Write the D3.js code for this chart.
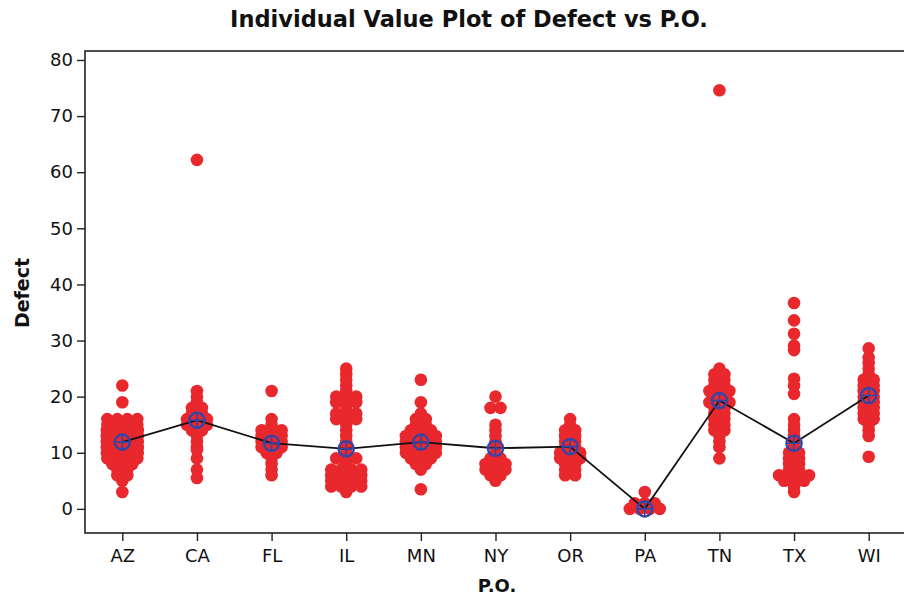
<!DOCTYPE html>
<html>
<head>
<meta charset="utf-8">
<script src="https://cdn.jsdelivr.net/npm/d3@7"></script>
<style>
  body { margin: 0; background: #ffffff; }
  text { font-family: "DejaVu Sans", Verdana, sans-serif; fill: #111; }
</style>
</head>
<body>
<svg id="chart" width="904" height="596"></svg>
<script>
// Purchase orders (P.O.) along the x axis
const categories = ["AZ", "CA", "FL", "IL", "MN", "NY", "OR", "PA", "TN", "TX", "WI"];

// Defect counts recorded for each P.O.
const defectAZ = [22, 19, 16, 16, 16, 16, 15, 15, 15, 15, 14, 14, 14, 14, 14, 13, 13, 13, 13, 13,
  12, 12, 12, 12, 12, 11, 11, 11, 11, 11, 10, 10, 10, 10, 10, 9, 9, 9, 9, 8, 8, 8, 7, 7, 6, 6, 5, 3];
const defectCA = [62.2, 21, 20, 19, 18, 18, 17, 17, 16, 16, 16, 15, 15, 15, 14, 14, 13, 12, 11, 10.5, 9, 7, 5.5];
const defectFL = [21, 16, 15, 14, 14, 14, 13, 13, 13, 12, 12, 12, 11, 11, 11, 10, 10, 9, 8, 7, 6];
const defectIL = [25, 24, 23, 22, 21, 20, 20, 20, 19, 19, 19, 18, 17, 17, 17, 16, 16, 16, 15, 14, 13, 12, 11, 10,
  9, 9, 9, 8, 7, 7, 7, 7, 6, 6, 6, 6, 5, 5, 5, 5, 4, 4, 4, 4, 3];
const defectMN = [23, 19, 17, 16, 16, 15, 15, 14, 14, 14, 13, 13, 13, 13, 12, 12, 12, 12, 11, 11, 11, 11,
  10, 10, 10, 10, 9, 9, 9, 8, 8, 7, 3.5];
const defectNY = [20, 18, 18, 15, 14, 13, 12, 11, 10, 9, 9, 8, 8, 8, 7, 7, 7, 6, 6, 5];
const defectOR = [16, 15, 14, 14, 13, 13, 12, 12, 11, 11, 10, 10, 10, 9, 9, 9, 8, 8, 7, 7, 6, 6];
const defectPA = [3, 1, 1, 1, 0, 0, 0, 0];
const defectTN = [74.6, 25, 24, 24, 23, 23, 22, 22, 21, 21, 21, 20, 20, 19, 19, 19, 18, 18, 17, 17,
  16, 16, 15, 15, 14, 14, 13, 12, 11, 9];
const defectTX = [36.7, 33.6, 31.2, 29.1, 28.3, 23.2, 22, 20.5, 16, 15, 14, 13, 12, 11, 10, 10, 9, 9,
  8, 8, 7, 7, 6, 6, 6, 6, 5, 5, 5, 4, 3];
const defectWI = [28.6, 27, 26, 25, 24, 23, 23, 22, 22, 21, 21, 20, 20, 19, 19, 18, 18, 17, 17, 16, 16,
  15, 14, 13, 9.3];

// Group means, joined by the connect line
const groupMeans = [11.9, 15.8, 11.7, 10.7, 11.9, 10.8, 11.1, 0, 19.3, 11.7, 20.2];

// Y axis tick values
const yTicks = [0, 10, 20, 30, 40, 50, 60, 70, 80];

const defectsByPO = [defectAZ, defectCA, defectFL, defectIL, defectMN, defectNY,
  defectOR, defectPA, defectTN, defectTX, defectWI];

const svg = d3.select("#chart");
const plot = { left: 85, right: 906, top: 51, bottom: 533 };

const x = d3.scalePoint().domain(categories).range([plot.left, plot.right]).padding(0.5);
const y = d3.scaleLinear().domain([-4.3, 81.6]).range([plot.bottom, plot.top]);

// Tied values are spread side by side around the category centre
const dots = [];
categories.forEach((cat, i) => {
  d3.groups(defectsByPO[i], v => v).forEach(([v, arr]) => {
    const n = arr.length;
    const step = n > 1 ? Math.min(10, 31 / (n - 1)) : 0;
    arr.forEach((_, k) => dots.push({ cat, v, dx: (k - (n - 1) / 2) * step }));
  });
});

// Frame
svg.append("rect")
  .attr("x", plot.left).attr("y", plot.top)
  .attr("width", plot.right - plot.left).attr("height", plot.bottom - plot.top)
  .attr("fill", "none").attr("stroke", "#222").attr("stroke-width", 1.6);

// Axes
const yAxis = svg.append("g")
  .attr("transform", `translate(${plot.left},0)`)
  .call(d3.axisLeft(y).tickValues(yTicks).tickSize(8).tickPadding(4));
const xAxis = svg.append("g")
  .attr("transform", `translate(0,${plot.bottom})`)
  .call(d3.axisBottom(x).tickSize(8).tickPadding(5));
[yAxis, xAxis].forEach(g => {
  g.select(".domain").remove();
  g.selectAll(".tick line").attr("stroke", "#222").attr("stroke-width", 1.4);
  g.selectAll(".tick text").style("font-size", "18px").attr("fill", "#111");
});
xAxis.selectAll(".tick text").attr("dy", "0.9em");

// Individual values
svg.append("g").selectAll("circle")
  .data(dots)
  .join("circle")
  .attr("cx", d => x(d.cat) + d.dx)
  .attr("cy", d => y(d.v))
  .attr("r", 6.3)
  .attr("fill", "#e8282d");

// Mean connect line
const meanPts = categories.map((c, i) => [x(c), y(groupMeans[i])]);
svg.append("path")
  .attr("d", d3.line()(meanPts))
  .attr("fill", "none")
  .attr("stroke", "#111")
  .attr("stroke-width", 1.8);

// Mean symbols: circle with a cross
const meanG = svg.append("g").selectAll("g")
  .data(meanPts)
  .join("g")
  .attr("transform", d => `translate(${d[0]},${d[1]})`);
meanG.append("circle")
  .attr("r", 7.6)
  .attr("fill", "none")
  .attr("stroke", "#3346a8")
  .attr("stroke-width", 2.4);
meanG.append("path")
  .attr("d", "M-7.5,0H7.5M0,-7.5V7.5")
  .attr("stroke", "#3346a8")
  .attr("stroke-width", 1.6);

// Titles
svg.append("text")
  .attr("x", 469).attr("y", 27)
  .attr("text-anchor", "middle")
  .style("font-size", "22.5px").style("font-weight", "bold")
  .text("Individual Value Plot of Defect vs P.O.");
svg.append("text")
  .attr("transform", "translate(29,293) rotate(-90)")
  .attr("text-anchor", "middle")
  .style("font-size", "19px").style("font-weight", "bold")
  .text("Defect");
svg.append("text")
  .attr("x", 497).attr("y", 592)
  .attr("text-anchor", "middle")
  .style("font-size", "18px").style("font-weight", "bold")
  .text("P.O.");
</script>
</body>
</html>
